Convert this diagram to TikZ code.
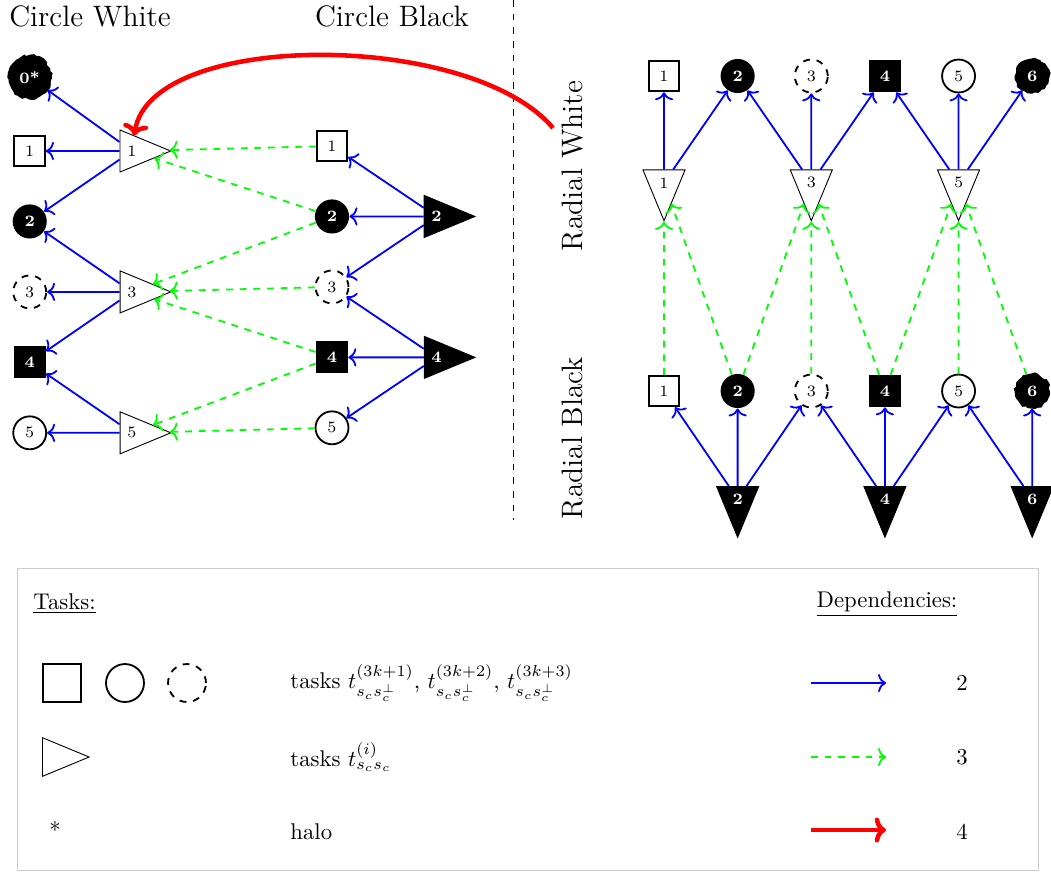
\documentclass[tikz,border=0pt]{standalone}
\usepackage{amsmath,amssymb}
\usepackage{tikz}
\usetikzlibrary{positioning,arrows.meta,shapes.geometric,decorations.pathmorphing}

\begin{document}
\begin{tikzpicture}[x=0.44pt, y=-0.44pt, on grid, node distance=31pt and 32.4pt, font=\scriptsize,
    task/.style={inner sep=0pt},
    sqW/.style={task, rectangle, draw, thick, minimum size=13.5pt},
    sqB/.style={task, rectangle, fill=black, text=white, font=\scriptsize\bfseries, minimum size=14pt},
    ciW/.style={task, circle, draw, thick, minimum size=14.5pt},
    ciD/.style={ciW, dashed},
    ciB/.style={task, circle, fill=black, text=white, font=\scriptsize\bfseries, minimum size=15pt},
    halo/.style={ciB, draw, decorate, decoration={random steps, segment length=1.2pt, amplitude=0.5pt}},
    triW/.style={isosceles triangle, isosceles triangle apex angle=45, draw, inner sep=1pt,
      minimum width=18.5pt, minimum height=18.5pt},
    triB/.style={triW, fill=black, text=white, font=\scriptsize\bfseries},
    dep2/.style={blue, thick, -{To[length=3.5pt,width=8pt]}},
    dep3/.style={green, thick, dashed, -{To[length=3.5pt,width=8pt]}},
    dep4/.style={red, line width=2pt, -{To[length=5pt,width=11pt]}},
    title/.style={font=\fontsize{13}{15}\selectfont},
    legtext/.style={anchor=west, inner sep=0pt, font=\normalsize}]

  \useasboundingbox (0,0) rectangle (1051,873);

  % circle white / circle black
  \node[title] (hcw) at (90,16) {Circle White};
  \node[title] (hcb) at (392,16) {Circle Black};

  \node[triW] (tw1) at (132,151) {1};
  \node[triW] (tw3) [below=62pt of tw1] {3};
  \node[triW] (tw5) [below=62pt of tw3] {5};

  \node[sqW] (cw1) [left=45pt of tw1] {1};
  \node[halo, minimum size=19pt] (cw0) [above=32.5pt of cw1] {0*};
  \node[ciB] (cw2) [below=of cw1] {2};
  \node[ciD] (cw3) [below=of cw2] {3};
  \node[sqB] (cw4) [below=of cw3] {4};
  \node[ciW] (cw5) [below=of cw4] {5};

  \node[sqW] (cb1) at (332,146) {1};
  \node[ciB] (cb2) [below=of cb1] {2};
  \node[ciD] (cb3) [below=of cb2] {3};
  \node[sqB] (cb4) [below=of cb3] {4};
  \node[ciW] (cb5) [below=of cb4] {5};
  \node[triB] (tb2) [right=46pt of cb2] {2};
  \node[triB] (tb4) [right=46pt of cb4] {4};

  \path[dep2]
    (tw1) edge (cw0) edge (cw1) edge (cw2)
    (tw3) edge (cw2) edge (cw3) edge (cw4)
    (tw5) edge (cw4) edge (cw5)
    (tb2) edge (cb1) edge (cb2) edge (cb3)
    (tb4) edge (cb3) edge (cb4) edge (cb5);

  \path[dep3]
    (cb1) edge (tw1)
    (cb2) edge (tw1) edge (tw3)
    (cb3) edge (tw3)
    (cb4) edge (tw3) edge (tw5)
    (cb5) edge (tw5);

  \coordinate (sepT) at (513,0);
  \coordinate (sepB) at (513,520);
  \draw[dashed] (sepT) -- (sepB);

  % radial white / radial black
  \node[title, rotate=90] (hrw) at (573,166) {Radial White};
  \node[title, rotate=90] (hrb) at (573,438) {Radial Black};

  \node[sqW] (rw1) at (664,76) {1};
  \node[ciB] (rw2) [right=of rw1] {2};
  \node[ciD] (rw3) [right=of rw2] {3};
  \node[sqB] (rw4) [right=of rw3] {4};
  \node[ciW] (rw5) [right=of rw4] {5};
  \node[halo] (rw6) [right=of rw5] {6};

  \node[triW, shape border rotate=270] (vw1) [below=47pt of rw1] {1};
  \node[triW, shape border rotate=270] (vw3) [below=47pt of rw3] {3};
  \node[triW, shape border rotate=270] (vw5) [below=47pt of rw5] {5};

  \node[sqW] (rb1) at (664,391) {1};
  \node[ciB] (rb2) [right=of rb1] {2};
  \node[ciD] (rb3) [right=of rb2] {3};
  \node[sqB] (rb4) [right=of rb3] {4};
  \node[ciW] (rb5) [right=of rb4] {5};
  \node[halo] (rb6) [right=of rb5] {6};

  \node[triB, shape border rotate=270] (vb2) [below=47.5pt of rb2] {2};
  \node[triB, shape border rotate=270] (vb4) [below=47.5pt of rb4] {4};
  \node[triB, shape border rotate=270] (vb6) [below=47.5pt of rb6] {6};

  \path[dep2]
    (vw1) edge (rw1) edge (rw2)
    (vw3) edge (rw2) edge (rw3) edge (rw4)
    (vw5) edge (rw4) edge (rw5) edge (rw6)
    (vb2) edge (rb1) edge (rb2) edge (rb3)
    (vb4) edge (rb3) edge (rb4) edge (rb5)
    (vb6) edge (rb5) edge (rb6);

  \path[dep3]
    (rb1) edge (vw1)
    (rb2) edge (vw1) edge (vw3)
    (rb3) edge (vw3)
    (rb4) edge (vw3) edge (vw5)
    (rb5) edge (vw5)
    (rb6) edge (vw5);

  % halo dependency
  \coordinate (src) at (553,128);
  \draw[dep4] (src) .. controls (470,30) and (150,30) .. (tw1);

  % legend
  \draw[gray!40] (17,568) rectangle (1038,870);
  \node[legtext] (ltasks) at (33,604) {\underline{Tasks:}};
  \node[font=\normalsize] (ldeps) at (887,604) {\underline{Dependencies:}};

  \node[sqW, minimum size=16.7pt] (lsq) at (62,683) {};
  \node[ciW, minimum size=16.7pt] (lci) at (125,683) {};
  \node[ciD, minimum size=16.7pt] (lcd) at (187,683) {};
  \node[triW, minimum width=17pt, minimum height=17pt, anchor=lower side] (ltri) at (42,757) {};
  \node[font=\normalsize] (lstar) at (55,830) {*};

  \node[legtext] (lt1) at (290,683) {tasks $t^{(3k+1)}_{s_cs_c^{\perp}}$, $t^{(3k+2)}_{s_cs_c^{\perp}}$, $t^{(3k+3)}_{s_cs_c^{\perp}}$};
  \node[legtext] (lt2) at (290,757) {tasks $t^{(i)}_{s_cs_c}$};
  \node[legtext] (lt3) at (290,832) {halo};

  \coordinate (la2) at (811,683);
  \coordinate (lb2) at (886,683);
  \coordinate (la3) at (811,757);
  \coordinate (lb3) at (886,757);
  \coordinate (la4) at (811,830);
  \coordinate (lb4) at (886,830);
  \draw[dep2] (la2) -- (lb2);
  \draw[dep3] (la3) -- (lb3);
  \draw[dep4] (la4) -- (lb4);
  \node[font=\normalsize] (ln2) at (962,683) {2};
  \node[font=\normalsize] (ln3) at (962,757) {3};
  \node[font=\normalsize] (ln4) at (962,832) {4};

\end{tikzpicture}
\end{document}
